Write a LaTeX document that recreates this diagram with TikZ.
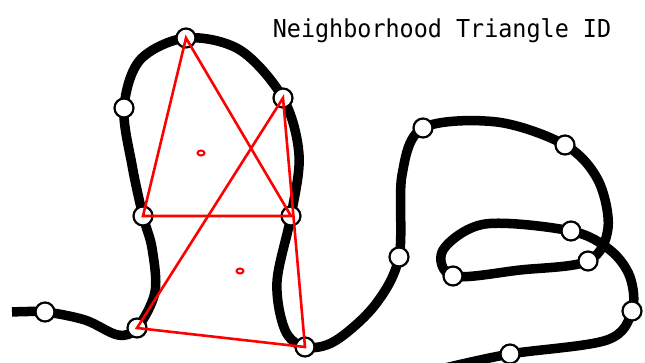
\documentclass[tikz,border=0pt]{standalone}
\usepackage{fontspec}
\newfontfamily\labelmono{DejaVu Sans Mono}
\begin{document}
\begin{tikzpicture}[x=1pt,y=-1pt,
  curve/.style={line width=9.5pt,black,line join=round},
  knot/.style={circle,draw=black,fill=white,line width=2.2pt,minimum size=19pt,inner sep=0pt},
  tri/.style={draw=red,line width=2.6pt,line join=miter},
  cdot/.style={draw=red,line width=2pt}]
\clip (0,0) rectangle (645,362);
\useasboundingbox (0,0) rectangle (645,362);
\fill[white] (0,0) rectangle (645,362);
% vertices
\coordinate (S0) at (12,312);
\coordinate (A) at (45,312);
\coordinate (B) at (137,328);
\coordinate (C) at (143,216);
\coordinate (D) at (124,108);
\coordinate (E) at (186,38);
\coordinate (F) at (283,98);
\coordinate (G) at (291,216);
\coordinate (H) at (305,347);
\coordinate (I) at (399,257);
\coordinate (J) at (423,128);
\coordinate (K) at (565,145);
\coordinate (L) at (588,261);
\coordinate (M) at (453,276);
\coordinate (N) at (571,231);
\coordinate (O) at (632,311);
\coordinate (P) at (510,354);
\coordinate (S1) at (445,368);
% curve
\draw[curve] plot[smooth,tension=0.55] coordinates {
  (S0) (A) (85,320) (118,335) (B) (155,292) (152,248) (C) (132,165) (D)
  (140,60) (E) (240,50) (F) (299,155) (G) (277,282) (285,330) (H)
  (335,341) (375,305) (I) (402,175) (J) (497,122) (K) (598,180) (608,228)
  (L) (520,270) (M) (443,250) (485,224) (N) (610,250) (630,277) (O)
  (607,340) (P) (S1)};
% knots
\foreach \p in {A,B,C,D,E,F,G,H,I,J,K,L,M,N,O,P}
  \node[knot] (k\p) at (\p) {};
% triangles
\draw[tri] (E) -- (C) -- (G) -- cycle;
\draw[tri] (F) -- (B) -- (H) -- cycle;
\draw[cdot] (201,153) ellipse [x radius=3.5pt,y radius=2.5pt];
\draw[cdot] (240,271) ellipse [x radius=3.5pt,y radius=2.5pt];
% label
\node[anchor=base,inner sep=0pt,xscale=0.948] (title) at (442,37)
  {\labelmono\fontsize{24.7}{26}\selectfont Neighborhood Triangle ID};
\end{tikzpicture}
\end{document}
